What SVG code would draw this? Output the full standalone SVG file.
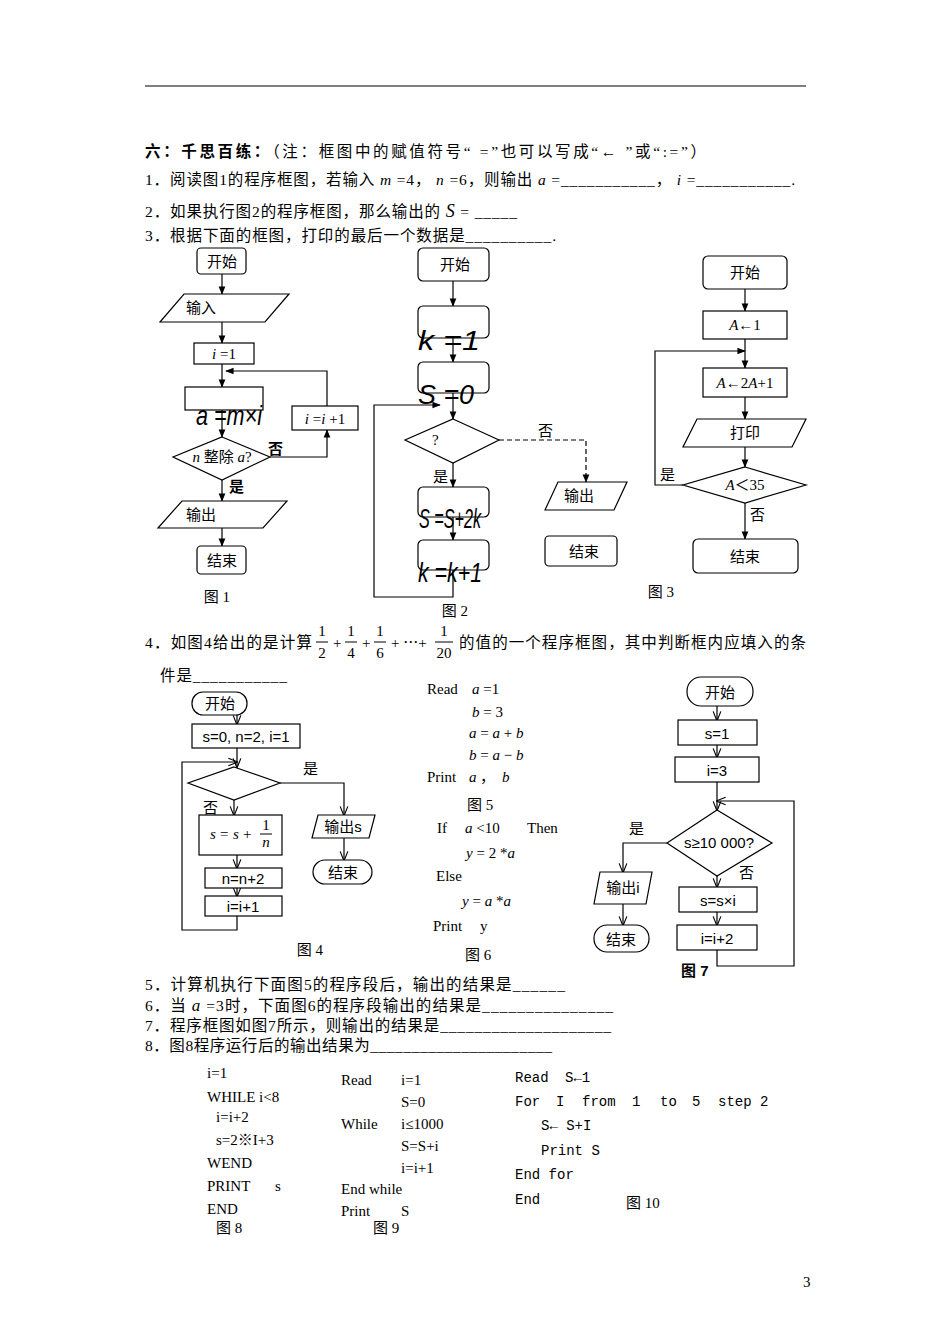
<svg xmlns="http://www.w3.org/2000/svg" width="950" height="1344" viewBox="0 0 950 1344" xml:space="preserve">
<defs>
<marker id="ar" viewBox="0 0 10 10" refX="9" refY="5" markerWidth="7" markerHeight="7" orient="auto-start-reverse"><path d="M0,1 L10,5 L0,9 z" fill="#000"/></marker>
<marker id="ao" viewBox="0 0 10 10" refX="9" refY="5" markerWidth="8" markerHeight="8" orient="auto"><path d="M0,1 L10,5 L0,9" fill="none" stroke="#000" stroke-width="1.2"/></marker>
</defs>
<style>
text{font-family:"Liberation Serif","Noto Sans CJK SC",serif;font-size:15px;fill:#000}
.q{font-size:15.5px}
.s{font-family:"Liberation Sans","Noto Sans CJK SC",sans-serif}
.m{font-family:"Liberation Mono","Noto Sans CJK SC",monospace;font-size:14px}
.c{text-anchor:middle}
.i{font-style:italic}
.big{font-family:"Liberation Sans",sans-serif;font-size:27px}
.b{fill:#fff;stroke:#000;stroke-width:1.2}
.a{fill:none;stroke:#000;stroke-width:1.2;marker-end:url(#ar)}
.o{fill:none;stroke:#000;stroke-width:1.2;marker-end:url(#ao)}
</style>
<rect width="950" height="1344" fill="#fff"/>
<line x1="145" y1="86" x2="806" y2="86" stroke="#000" stroke-width="1.2"/>

<g id="questions">
<text class="q" x="145" y="157" textLength="561" lengthAdjust="spacing"><tspan font-weight="bold">六：千思百练：</tspan>（注：框图中的赋值符号“ =”也可以写成“← ”或“:=”）</text>
<text class="q" x="145" y="185" textLength="650" lengthAdjust="spacing">1．阅读图1的程序框图，若输入 <tspan class="i">m</tspan> =4， <tspan class="i">n</tspan> =6，则输出 <tspan class="i">a</tspan> =___________， <tspan class="i">i</tspan> =___________.</text>
<text class="q" x="145" y="217" textLength="372" lengthAdjust="spacing">2．如果执行图2的程序框图，那么输出的 <tspan class="i" font-size="18">S</tspan> = _____</text>
<text class="q" x="145" y="241" textLength="411" lengthAdjust="spacing">3．根据下面的框图，打印的最后一个数据是__________.</text>
<text class="q" x="145" y="648" textLength="167" lengthAdjust="spacing">4．如图4给出的是计算</text>
<text x="322" y="636" class="c" font-size="13">1</text><line x1="316" y1="642" x2="328" y2="642" stroke="#000"/><text x="322" y="658" class="c" font-size="13">2</text>
<text x="333" y="648">+</text>
<text x="351" y="636" class="c" font-size="13">1</text><line x1="345" y1="642" x2="357" y2="642" stroke="#000"/><text x="351" y="658" class="c" font-size="13">4</text>
<text x="362" y="648">+</text>
<text x="380" y="636" class="c" font-size="13">1</text><line x1="374" y1="642" x2="386" y2="642" stroke="#000"/><text x="380" y="658" class="c" font-size="13">6</text>
<text x="391" y="648">+ ⋯+</text>
<text x="444" y="636" class="c" font-size="13">1</text><line x1="435" y1="642" x2="453" y2="642" stroke="#000"/><text x="444" y="658" class="c" font-size="13">20</text>
<text class="q" x="459" y="648" textLength="347" lengthAdjust="spacing">的值的一个程序框图，其中判断框内应填入的条</text>
<text class="q" x="160" y="681" textLength="127" lengthAdjust="spacing">件是___________</text>
<text class="q" x="145" y="990" textLength="420" lengthAdjust="spacing">5．计算机执行下面图5的程序段后，输出的结果是______</text>
<text class="q" x="145" y="1011" textLength="468" lengthAdjust="spacing">6．当 <tspan class="i" font-size="17">a</tspan> =3时，下面图6的程序段输出的结果是_______________</text>
<text class="q" x="145" y="1031" textLength="466" lengthAdjust="spacing">7．程序框图如图7所示，则输出的结果是____________________</text>
<text class="q" x="145" y="1051" textLength="407" lengthAdjust="spacing">8．图8程序运行后的输出结果为______________________</text>
<text x="803" y="1287" font-size="13">3</text>
</g>

<g id="connectors">
<path class="a" d="M222,274 V294"/>
<path class="a" d="M222,322 V343"/>
<path class="a" d="M222,364 V387"/>
<path class="a" d="M222,410 V437"/>
<path class="a" d="M270,457 H327 V430"/>
<path class="a" d="M327,406 V371 H226"/>
<path class="a" d="M222,480 V501"/>
<path class="a" d="M222,528 V546"/>
<path class="a" d="M453,281 V306"/>
<path class="a" d="M453,338 V362"/>
<path class="a" d="M453,393 V419"/>
<path class="a" d="M453,463 V487"/>
<path class="a" d="M453,517 V540"/>
<path class="a" d="M453,570 V597 H374 V405 H440"/>
<path class="a" d="M499,440 H586 V482" stroke-dasharray="5,3"/>
<path class="a" d="M745,289 V311"/>
<path class="a" d="M745,339 V368"/>
<path class="a" d="M745,397 V419"/>
<path class="a" d="M745,447 V467"/>
<path class="a" d="M745,503 V539"/>
<path class="a" d="M683,485 H655 V351 H745"/>
<path class="o" d="M237,715 V724"/>
<path class="o" d="M237,748 V767"/>
<path class="o" d="M234,800 V815"/>
<path class="o" d="M280,783 H344 V815"/>
<path class="o" d="M344,838 V860"/>
<path class="o" d="M237,855 V868"/>
<path class="o" d="M237,888 V896"/>
<path class="o" d="M237,916 V930 H182 V762 H237"/>
<path class="o" d="M717,706 V720"/>
<path class="o" d="M717,745 V757"/>
<path class="o" d="M717,782 V810"/>
<path class="o" d="M667,843 H623 V872"/>
<path class="o" d="M623,904 V925"/>
<path class="o" d="M717,876 V887"/>
<path class="o" d="M717,912 V925"/>
<path class="o" d="M717,950 V966 H794 V801 H717"/>
</g>

<g id="fig1">
<rect class="b" x="197" y="248" width="49" height="26" rx="4"/><text x="222" y="267" class="c">开始</text>
<polygon class="b" points="184,294 289,294 265,322 160,322"/><text x="186" y="313">输入</text>
<rect class="b" x="194" y="343" width="60" height="21"/><text x="224" y="359" class="c"><tspan class="i">i</tspan> =1</text>
<rect class="b" x="185" y="387" width="78" height="23"/><text x="196" y="425" class="big i" textLength="66" lengthAdjust="spacingAndGlyphs">a =m×i</text>
<rect class="b" x="292" y="406" width="66" height="24"/><text x="325" y="424" class="c"><tspan class="i">i</tspan> =<tspan class="i">i</tspan> +1</text>
<polygon class="b" points="222,437 270,457 222,480 173,457"/><text x="222" y="462" class="c" font-size="13"><tspan class="i">n</tspan> 整除 <tspan class="i">a</tspan>?</text>
<text x="268" y="454" font-weight="bold">否</text><text x="229" y="492" font-weight="bold">是</text>
<polygon class="b" points="182,501 287,501 263,528 158,528"/><text x="186" y="520">输出</text>
<rect class="b" x="197" y="546" width="49" height="28" rx="4"/><text x="222" y="566" class="c">结束</text>
<text x="217" y="602" class="c">图 1</text>
</g>

<g id="fig2">
<rect class="b" x="418" y="248" width="71" height="33" rx="5"/><text x="455" y="270" class="c">开始</text>
<rect class="b" x="418" y="306" width="71" height="32" rx="5"/><text x="418" y="350" class="big i" textLength="62" lengthAdjust="spacingAndGlyphs">k =1</text>
<rect class="b" x="418" y="362" width="71" height="31" rx="5"/><text x="418" y="404" class="big i" textLength="56" lengthAdjust="spacingAndGlyphs">S =0</text>
<polygon class="b" points="453,419 499,440 453,463 405,440"/><text x="432" y="445">?</text>
<text x="433" y="482">是</text><text x="538" y="436">否</text>
<rect class="b" x="418" y="487" width="71" height="30" rx="5"/><text x="419" y="528" class="big i" textLength="62" lengthAdjust="spacingAndGlyphs">S =S+2k</text>
<rect class="b" x="418" y="540" width="71" height="30" rx="5"/><text x="418" y="582" class="big i" textLength="64" lengthAdjust="spacingAndGlyphs">k =k+1</text>
<polygon class="b" points="558,482 627,482 614,510 545,510"/><text x="564" y="501">输出</text>
<rect class="b" x="545" y="536" width="72" height="30" rx="4"/><text x="584" y="557" class="c">结束</text>
<text x="455" y="616" class="c">图 2</text>
</g>

<g id="fig3">
<rect class="b" x="703" y="256" width="84" height="33" rx="5"/><text x="745" y="278" class="c">开始</text>
<rect class="b" x="703" y="311" width="84" height="28"/><text x="745" y="330" class="c"><tspan class="i">A</tspan>←1</text>
<rect class="b" x="703" y="368" width="84" height="29"/><text x="745" y="388" class="c"><tspan class="i">A</tspan>←2<tspan class="i">A</tspan>+1</text>
<polygon class="b" points="697,419 806,419 792,447 683,447"/><text x="745" y="438" class="c">打印</text>
<polygon class="b" points="745,467 806,485 745,503 683,485"/><text x="745" y="490" class="c"><tspan class="i">A</tspan>＜35</text>
<text x="660" y="480">是</text><text x="750" y="520">否</text>
<rect class="b" x="693" y="539" width="105" height="34" rx="5"/><text x="745" y="562" class="c">结束</text>
<text x="661" y="597" class="c">图 3</text>
</g>

<g id="fig4">
<rect class="b" x="192" y="692" width="55" height="23" rx="11"/><text x="220" y="709" class="c s" font-size="16">开始</text>
<rect class="b" x="192" y="724" width="108" height="24"/><text x="246" y="742" class="c s">s=0, n=2, i=1</text>
<polygon class="b" points="234,767 280,783 234,800 188,783"/>
<text x="303" y="774" class="s">是</text><text x="203" y="813" class="s">否</text>
<rect class="b" x="199" y="815" width="83" height="40"/>
<text x="210" y="839" class="i">s</text><text x="220" y="839">=</text><text x="233" y="839" class="i">s</text><text x="243" y="839">+</text>
<text x="266" y="830" class="c" font-size="12">1</text><line x1="260" y1="834" x2="272" y2="834" stroke="#000"/><text x="266" y="847" class="c i" font-size="12">n</text>
<polygon class="b" points="318,815 375,815 369,838 312,838"/><text x="343" y="832" class="c s">输出s</text>
<rect class="b" x="313" y="860" width="59" height="24" rx="12"/><text x="343" y="878" class="c s" font-size="16">结束</text>
<rect class="b" x="205" y="868" width="77" height="20"/><text x="243" y="884" class="c s">n=n+2</text>
<rect class="b" x="205" y="896" width="77" height="20"/><text x="243" y="912" class="c s">i=i+1</text>
<text x="310" y="955" class="c">图 4</text>
</g>

<g id="fig5">
<text x="427" y="694">Read</text><text x="472" y="694"><tspan class="i">a</tspan> =1</text>
<text x="472" y="717"><tspan class="i">b</tspan> = 3</text>
<text x="469" y="738"><tspan class="i">a</tspan> = <tspan class="i">a</tspan> + <tspan class="i">b</tspan></text>
<text x="469" y="760"><tspan class="i">b</tspan> = <tspan class="i">a</tspan> − <tspan class="i">b</tspan></text>
<text x="427" y="782">Print</text><text x="469" y="782" class="i">a</text><text x="480" y="782">，</text><text x="502" y="782" class="i">b</text>
<text x="467" y="810">图 5</text>
</g>
<g id="fig6">
<text x="437" y="833">If</text><text x="465" y="833"><tspan class="i">a</tspan> &lt;10</text><text x="527" y="833">Then</text>
<text x="466" y="858"><tspan class="i">y</tspan> = 2 *<tspan class="i">a</tspan></text>
<text x="436" y="881">Else</text>
<text x="462" y="906"><tspan class="i">y</tspan> = <tspan class="i">a</tspan> *<tspan class="i">a</tspan></text>
<text x="433" y="931">Print</text><text x="480" y="931">y</text>
<text x="465" y="960">图 6</text>
</g>

<g id="fig7">
<rect class="b" x="687" y="677" width="66" height="29" rx="14"/><text x="720" y="698" class="c s" font-size="17">开始</text>
<rect class="b" x="678" y="720" width="79" height="25"/><text x="717" y="739" class="c s" font-size="16">s=1</text>
<rect class="b" x="675" y="757" width="84" height="25"/><text x="717" y="776" class="c s" font-size="16">i=3</text>
<polygon class="b" points="717,810 772,843 717,876 667,843"/><text x="719" y="848" class="c s" font-size="12">s≥10 000?</text>
<text x="629" y="834" class="s" font-size="16">是</text><text x="739" y="878" class="s" font-size="16">否</text>
<polygon class="b" points="600,872 652,872 646,904 594,904"/><text x="623" y="893" class="c s" font-size="13">输出i</text>
<rect class="b" x="594" y="925" width="55" height="27" rx="13"/><text x="621" y="945" class="c s" font-size="17">结束</text>
<rect class="b" x="679" y="887" width="78" height="25"/><text x="718" y="906" class="c s" font-size="16">s=s×i</text>
<rect class="b" x="677" y="925" width="80" height="25"/><text x="717" y="944" class="c s" font-size="16">i=i+2</text>
<text x="681" y="976" class="s" font-weight="bold">图 7</text>
</g>

<g id="fig8">
<text x="207" y="1078" font-size="14">i=1</text>
<text x="207" y="1102" font-size="14">WHILE i&lt;8</text>
<text x="216" y="1122" font-size="14">i=i+2</text>
<text x="216" y="1145" font-size="14">s=2※I+3</text>
<text x="207" y="1168" font-size="14">WEND</text>
<text x="207" y="1191" font-size="14">PRINT</text><text x="275" y="1191" font-size="14">s</text>
<text x="207" y="1214" font-size="14">END</text>
<text x="216" y="1233" font-size="14">图 8</text>
</g>
<g id="fig9">
<text x="341" y="1085" font-size="14">Read</text><text x="401" y="1085" font-size="14">i=1</text>
<text x="401" y="1107" font-size="14">S=0</text>
<text x="341" y="1129" font-size="14">While</text><text x="401" y="1129" font-size="14">i≤1000</text>
<text x="401" y="1151" font-size="14">S=S+i</text>
<text x="401" y="1173" font-size="14">i=i+1</text>
<text x="341" y="1194" font-size="14">End while</text>
<text x="341" y="1216" font-size="14">Print</text><text x="401" y="1216" font-size="14">S</text>
<text x="373" y="1233" font-size="14">图 9</text>
</g>
<g id="fig10">
<text x="515" y="1082" class="m">Read</text><text x="565" y="1082" class="m">S←1</text>
<text x="515" y="1106" class="m">For</text><text x="556" y="1106" class="m">I</text><text x="582" y="1106" class="m">from</text><text x="632" y="1106" class="m">1</text><text x="660" y="1106" class="m">to</text><text x="692" y="1106" class="m">5</text><text x="718" y="1106" class="m">step 2</text>
<text x="541" y="1130" class="m">S← S+I</text>
<text x="541" y="1155" class="m">Print S</text>
<text x="515" y="1179" class="m">End for</text>
<text x="515" y="1204" class="m">End</text>
<text x="626" y="1208" font-size="14">图 10</text>
</g>
</svg>
